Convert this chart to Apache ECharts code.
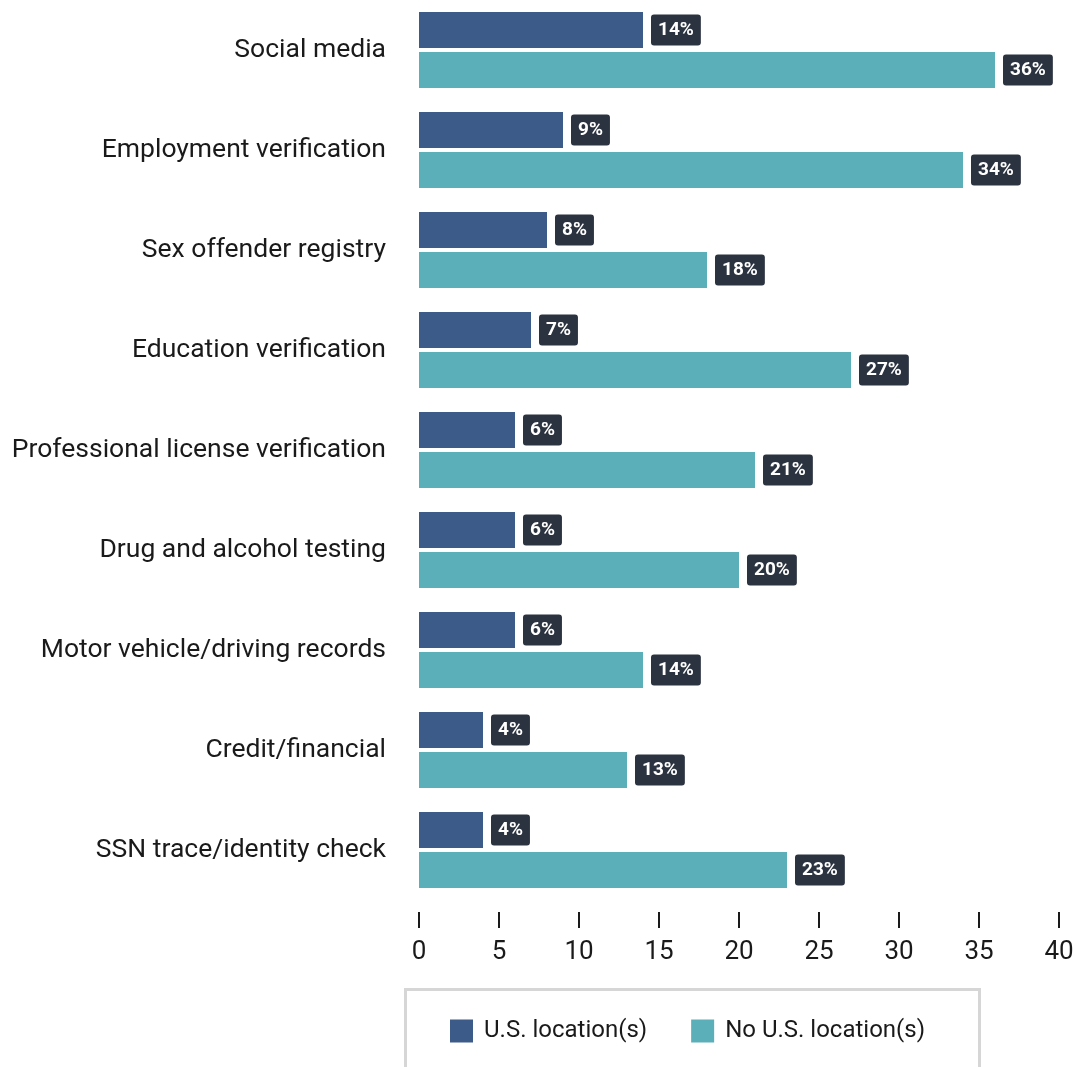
<!DOCTYPE html>
<html>
<head>
<meta charset="utf-8">
<script src="https://cdn.jsdelivr.net/npm/echarts@6/dist/echarts.min.js"></script>
<style>html,body{margin:0;padding:0;background:#fff;}#c{width:1077px;height:1067px;}</style>
</head>
<body>
<div id="c"></div>
<script>
const categories = ["Social media","Employment verification","Sex offender registry","Education verification","Professional license verification","Drug and alcohol testing","Motor vehicle/driving records","Credit/financial","SSN trace/identity check"];
const usValues = [14,9,8,7,6,6,6,4,4];
const noUsValues = [36,34,18,27,21,20,14,13,23];
const seriesNames = ["U.S. location(s)","No U.S. location(s)"];
const xTicks = {min:0,max:40,interval:5};

const chart = echarts.init(document.getElementById('c'), null, {renderer:'canvas'});
const labelStyle = {
  show:true, position:'right', distance:8,
  formatter:'{c}%', color:'#fff', fontWeight:'bold', fontSize:19,
  fontFamily:'Roboto', backgroundColor:'#2b3340', borderRadius:3,
  padding:[6,7,5,7], lineHeight:20
};
chart.setOption({
  animation:false,
  textStyle:{fontFamily:'Roboto'},
  grid:{left:419,right:18,top:0,bottom:167,containLabel:false},
  xAxis:{type:'value',min:xTicks.min,max:xTicks.max,interval:xTicks.interval,
    offset:12,
    axisLine:{show:false},
    axisTick:{show:true,length:16,lineStyle:{color:'#1a1a1a',width:2}},
    splitLine:{show:false},
    axisLabel:{fontSize:26,color:'#1a1a1a',margin:27,fontFamily:'Roboto'}},
  yAxis:{type:'category',data:categories,inverse:true,
    axisLine:{show:false},axisTick:{show:false},
    axisLabel:{fontSize:26.5,color:'#1a1a1a',margin:33,fontFamily:'Roboto'}},
  legend:{left:445,top:1014,itemWidth:23,itemHeight:23,itemGap:44,icon:'rect',
    textStyle:{fontSize:24,color:'#1a1a1a',fontFamily:'Roboto',padding:[0,0,0,6]},
    data:seriesNames},
  graphic:[{type:'rect',left:403,top:987,shape:{x:0,y:0,width:574,height:100},
    style:{fill:'none',stroke:'#d6d6d6',lineWidth:3},silent:true}],
  series:[
    {name:seriesNames[0],type:'bar',data:usValues,itemStyle:{color:'#3d5b89'},
     barWidth:36,barGap:'11%',label:labelStyle},
    {name:seriesNames[1],type:'bar',data:noUsValues,itemStyle:{color:'#5aafb8'},
     barWidth:36,label:labelStyle}
  ]
});
</script>
</body>
</html>
